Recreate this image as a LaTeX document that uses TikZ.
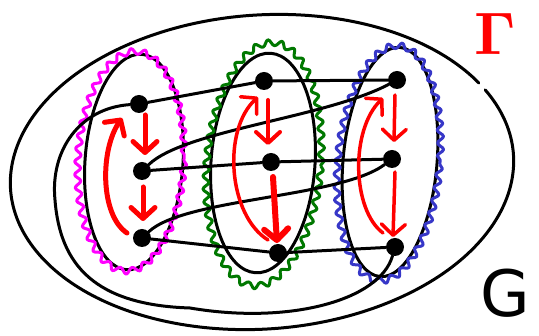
\documentclass[tikz,border=0pt]{standalone}
\usepackage[no-math]{fontspec}
\usepackage{graphicx}
\newfontfamily\dejavu{DejaVu Sans}
\usetikzlibrary{arrows.meta,decorations.pathmorphing,calc}
\definecolor{wmag}{RGB}{255,0,255}
\definecolor{wgreen}{RGB}{0,120,0}
\definecolor{wblue}{RGB}{55,55,200}
\begin{document}
\begin{tikzpicture}[x=1pt,y=1pt,yscale=-1,
  edge/.style={line width=3pt, line cap=round, line join=round},
  dot/.style={circle, fill=black, inner sep=0pt, minimum size=18pt},
  wavy/.style={line width=3pt, line join=round, decorate, decoration={snake, segment length=13pt, amplitude=3pt}},
  redarrow/.style={red, line cap=round, line join=round, -{Straight Barb[length=11pt,width=24pt,round]}},
]
\fill[white] (0,0) rectangle (539,336);
\useasboundingbox (0,0) rectangle (539,336);

% outer region
\begin{scope}[shift={(262,172)}, rotate=-4]
  \draw[edge] (-25:252 and 157) arc[start angle=-25, end angle=332, x radius=252, y radius=157];
\end{scope}

% black group outlines
\draw[edge, shift={(134,162)}, rotate=4] (0,0) ellipse [x radius=49, y radius=108];
\draw[edge, shift={(263,163)}, rotate=4] (0,0) ellipse [x radius=52, y radius=110];
\draw[edge, shift={(390,162)}, rotate=5] (0,0) ellipse [x radius=47, y radius=115];

% wavy coloured outlines
\draw[wavy, wmag, shift={(131,158)}, rotate=3] (0,0) ellipse [x radius=53, y radius=110];
\draw[wavy, wgreen, shift={(264,161)}, rotate=5] (0,0) ellipse [x radius=57, y radius=122];
\draw[wavy, wblue, shift={(389,160)}, rotate=5] (0,0) ellipse [x radius=51, y radius=118];

% vertices
\node[dot] (a1) at (139,104) {};
\node[dot] (a2) at (142,171) {};
\node[dot] (a3) at (142,238) {};
\node[dot] (b1) at (264,81) {};
\node[dot] (b2) at (271,162) {};
\node[dot] (b3) at (278,253) {};
\node[dot] (c1) at (397,80) {};
\node[dot] (c2) at (392,159) {};
\node[dot] (c3) at (395,247) {};

% black edges
\draw[edge] (a1) -- (b1);
\draw[edge] (b1) -- (c1);
\draw[edge] (a2) -- (b2);
\draw[edge] (b2) -- (c2);
\draw[edge] (a3) -- (b3);
\draw[edge] (b3) -- (c3);
\draw[edge] (a2) .. controls (185,130) and (325,118) .. (c1);
\draw[edge] (a3) .. controls (185,198) and (340,198) .. (c2);
\draw[edge] (a1) .. controls (80,108) and (50,150) .. (55,200)
  .. controls (60,265) and (95,305) .. (190,308)
  .. controls (290,325) and (380,300) .. (c3);

% red arrows
\draw[redarrow, line width=5pt] ($(a1)+(6,11)$) -- ($(a2)+(3,-16)$);
\draw[redarrow, line width=5pt] ($(a2)+(1,16)$) -- ($(a3)+(1,-17)$);
\draw[redarrow, line width=5pt] ($(a3)+(-15,-5)$) .. controls (100,215) and (100,150) .. ($(a1)+(-17,14)$);

\draw[redarrow, line width=4pt] ($(b1)+(4,19)$) -- ($(b2)+(-3,-17)$);
\draw[redarrow, line width=6pt] ($(b2)+(2,15)$) -- ($(b3)+(-1,-10)$);
\draw[redarrow, line width=3.5pt] ($(b3)+(-10,-13)$) .. controls (228,215) and (222,130) .. ($(b1)+(-6,16)$);

\draw[redarrow, line width=3.5pt] ($(c1)+(-2,15)$) -- ($(c2)+(2,-17)$);
\draw[redarrow, line width=3.5pt] ($(c2)+(3,13)$) -- ($(c3)+(-2,-10)$);
\draw[redarrow, line width=3.5pt] ($(c3)+(-12,-14)$) .. controls (352,210) and (350,130) .. ($(c1)+(-14,18)$);

% labels
\node[red, inner sep=0pt] (gamma) at (495,34) {\scalebox{6}{$\mathbf{\Gamma}$}};
\node[font=\dejavu\fontsize{64}{70}\selectfont] (G) at (505,293) {G};
\end{tikzpicture}
\end{document}
